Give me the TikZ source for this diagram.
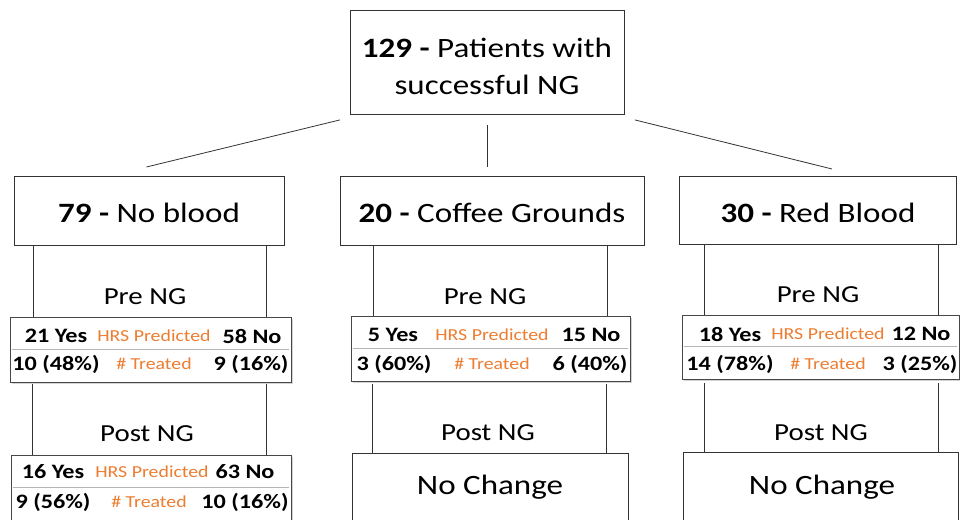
\documentclass[tikz,border=0pt]{standalone}
\usepackage{fontspec}
\setmainfont{Carlito}[FakeStretch=1.18]
\usetikzlibrary{shadows,calc}
\definecolor{orng}{HTML}{ED7D31}
\definecolor{lnc}{HTML}{333333}
\definecolor{sepc}{HTML}{B4B4B4}
\tikzset{
  box/.style={draw=lnc, line width=0.9pt, fill=white, inner sep=0pt, anchor=north west},
  tbl/.style={draw=lnc!90, line width=1pt, fill=white, inner sep=0pt, anchor=north west,
     drop shadow={shadow xshift=1.5pt, shadow yshift=-1.5pt, opacity=0.35}},
  conn/.style={draw=lnc, line width=0.8pt},
  sepline/.style={draw=sepc, line width=1pt},
  bigtxt/.style={font=\fontsize{28}{37}\selectfont, align=center, inner sep=0pt},
  midtxt/.style={font=\fontsize{28}{32}\selectfont, inner sep=0pt},
  lbltxt/.style={font=\fontsize{24.5}{30}\selectfont, inner sep=0pt},
  cell/.style={font=\bfseries\fontsize{20.5}{22}\selectfont, inner sep=0pt},
  ocell/.style={font=\fontsize{16.8}{20}\selectfont, text=orng, inner sep=0pt},
}
\begin{document}
\begin{tikzpicture}[x=1pt,y=-1pt]
\useasboundingbox (0,0) rectangle (960,519);
\begin{scope}
\clip (0,0) rectangle (960,519);
% top
\node[box, minimum width=274pt, minimum height=104pt] (top) at (350,10) {};
\node[bigtxt] (toptxt) at (487,66) {\textbf{129 -} Patients with\\successful NG};
% second row
\node[box, minimum width=270pt, minimum height=69pt] (nb) at (14,176) {};
\node[midtxt] (nbt) at (149,213) {\textbf{79 -} No blood};
\node[box, minimum width=304pt, minimum height=69pt] (cg) at (340,176) {};
\node[midtxt] (cgt) at (492,213) {\textbf{20 -} Coffee Grounds};
\node[box, minimum width=277pt, minimum height=68pt] (rb) at (679,176) {};
\node[midtxt] (rbt) at (818,213) {\textbf{30 -} Red Blood};
% top connectors
\coordinate (tl) at ($(top.south west)+(-10,5)$);
\coordinate (tm) at (487,125);
\coordinate (tr) at ($(top.south east)+(10,5)$);
\coordinate (nbc) at ($(nb.north)+(-3,-9)$);
\coordinate (cgc) at (487,167);
\coordinate (rbc) at ($(rb.north)+(14,-7)$);
\draw[conn] (tl) -- (nbc);
\draw[conn] (tm) -- (cgc);
\draw[conn] (tr) -- (rbc);
% pre tables
\node[tbl, minimum width=281pt, minimum height=65pt] (pl) at (10,317) {};
\node[tbl, minimum width=279pt, minimum height=65pt] (pm) at (351,316) {};
\node[tbl, minimum width=277pt, minimum height=64pt] (pr) at (682,315) {};
% vertical lines second row -> pre
\draw[conn] (33,246) -- (33,317);
\draw[conn] (266,246) -- (266,317);
\draw[conn] (373,246) -- (373,316);
\draw[conn] (607,246) -- (607,316);
\draw[conn] (704,245) -- (704,315);
\draw[conn] (938,245) -- (938,315);
\node[lbltxt] (pre1) at (145,297) {Pre NG};
\node[lbltxt] (pre2) at (485,297) {Pre NG};
\node[lbltxt] (pre3) at (818,295) {Pre NG};
% separators
\draw[sepline] ($(pl.west)+(2,-1)$) -- ($(pl.east)+(-3,-1)$);
\draw[sepline] ($(pm.west)+(2,-1)$) -- ($(pm.east)+(-3,-1)$);
\draw[sepline] ($(pr.west)+(2,-1)$) -- ($(pr.east)+(-3,-1)$);
% pre left cells
\node[cell] (a1) at (56,336) {21 Yes};
\node[ocell] (a2) at (154,336) {HRS Predicted};
\node[cell] (a3) at (252,336) {58 No};
\node[cell] (a4) at (56,364) {10 (48\%)};
\node[ocell] (a5) at (154,364) {\# Treated};
\node[cell] (a6) at (251,364) {9 (16\%)};
% pre middle cells
\node[cell] (b1) at (393,335) {5 Yes};
\node[ocell] (b2) at (492,335) {HRS Predicted};
\node[cell] (b3) at (591,335) {15 No};
\node[cell] (b4) at (394,364) {3 (60\%)};
\node[ocell] (b5) at (492,364) {\# Treated};
\node[cell] (b6) at (590,364) {6 (40\%)};
% pre right cells
\node[cell] (c1) at (730,334) {18 Yes};
\node[ocell] (c2) at (828,334) {HRS Predicted};
\node[cell] (c3) at (921,334) {12 No};
\node[cell] (c4) at (730,364) {14 (78\%)};
\node[ocell] (c5) at (828,364) {\# Treated};
\node[cell] (c6) at (920,364) {3 (25\%)};
% lower vertical lines
\draw[conn] (32,384) -- (32,455);
\draw[conn] (266,384) -- (266,455);
\draw[conn] (372,384) -- (372,453);
\draw[conn] (606,384) -- (606,453);
\draw[conn] (704,383) -- (704,452);
\draw[conn] (938,383) -- (938,452);
\node[lbltxt] (post1) at (147,434) {Post NG};
\node[lbltxt] (post2) at (488,433) {Post NG};
\node[lbltxt] (post3) at (821,433) {Post NG};
% post tables
\node[tbl, minimum width=280pt, minimum height=65pt] (ql) at (11,455) {};
\draw[sepline] ($(ql.west)+(2,-1)$) -- ($(ql.east)+(-3,-1)$);
\node[cell] (d1) at (53,472) {16 Yes};
\node[ocell] (d2) at (152,472) {HRS Predicted};
\node[cell] (d3) at (245,472) {63 No};
\node[cell] (d4) at (53,502) {9 (56\%)};
\node[ocell] (d5) at (149,502) {\# Treated};
\node[cell] (d6) at (245,502) {10 (16\%)};
\node[box, minimum width=276pt, minimum height=80pt] (ncm) at (352,453) {};
\node[midtxt] (ncmt) at (490,487) {No Change};
\node[box, minimum width=275pt, minimum height=80pt] (ncr) at (683,452) {};
\node[midtxt] (ncrt) at (822,487) {No Change};
\end{scope}
\end{tikzpicture}
\end{document}
